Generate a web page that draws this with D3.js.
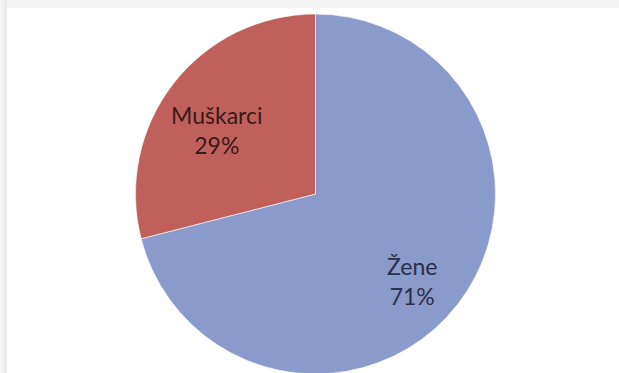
<!DOCTYPE html>
<html>
<head>
<meta charset="utf-8">
<script src="https://cdn.jsdelivr.net/npm/d3@7"></script>
<style>
  html, body { margin: 0; padding: 0; background: #f2f2f2; }
  svg { display: block; }
</style>
</head>
<body>
<div></div>
<script>
let labels = ["Žene", "Muškarci"]
let values = [71, 29]
let colors = ["#8a9acb", "#c0605b"]

let w = 619;
let h = 373;
let cx = 315.5, cy = 194, r = 180;

let svg = d3.select("div").append("svg").attr("width", w).attr("height", h);

// gray frame at left/top, white plot area
let grad = svg.append("defs").append("linearGradient").attr("id", "lg").attr("x1", 0).attr("x2", 1);
grad.append("stop").attr("offset", 0).attr("stop-color", "#f7f7f7");
grad.append("stop").attr("offset", 1).attr("stop-color", "#e9e9e9");
svg.append("rect").attr("width", w).attr("height", h).attr("fill", "#f4f4f4");
svg.append("rect").attr("x", 0).attr("y", 0).attr("width", 7).attr("height", h).attr("fill", "url(#lg)");
svg.append("rect").attr("x", 7).attr("y", 8).attr("width", w - 7).attr("height", h - 8).attr("fill", "#ffffff");

let pie = d3.pie().sort(null).value(d => d);
let arcs = pie(values);
let arc = d3.arc().innerRadius(0).outerRadius(r);

let g = svg.append("g").attr("transform", "translate(" + cx + "," + cy + ")");

g.selectAll("path")
    .data(arcs)
    .enter()
    .append("path")
    .attr("d", arc)
    .attr("fill", (d, i) => colors[i])
    .attr("stroke", "#ffffff")
    .attr("stroke-width", 0.6);

// label positions from a smaller arc, nudged like the original
let labelArc = d3.arc().innerRadius(r * 0.68).outerRadius(r * 0.68);
let nudge = [[0, 11], [-2, 10]];

let lbl = g.selectAll(".lbl")
    .data(arcs)
    .enter()
    .append("text")
    .attr("class", "lbl")
    .attr("transform", (d, i) => {
        let c = labelArc.centroid(d);
        return "translate(" + (c[0] + nudge[i][0]) + "," + (c[1] + nudge[i][1]) + ")";
    })
    .attr("text-anchor", "middle")
    .style("font-family", "Lato, 'Open Sans', sans-serif")
    .style("font-size", "23px")
    .attr("fill", (d, i) => i == 0 ? "#2a2f4a" : "#3a1a1a");

lbl.append("tspan").attr("x", 0).attr("dy", "-0.2em").text((d, i) => labels[i]);
lbl.append("tspan").attr("x", 0).attr("dy", "1.3em").text((d, i) => values[i] + "%");
</script>
</body>
</html>
